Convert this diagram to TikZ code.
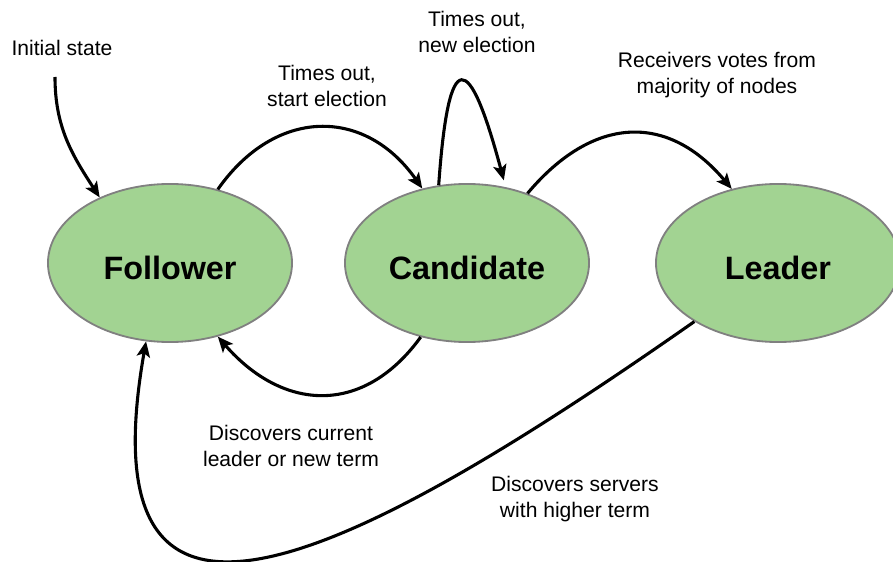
\documentclass[tikz,border=0pt]{standalone}
\usepackage{fontspec}
\setmainfont{Liberation Sans}
\usepackage{tikz}
\usetikzlibrary{shapes.geometric,arrows.meta}
\definecolor{etat}{RGB}{162,211,146}
\definecolor{bord}{RGB}{128,128,128}

\begin{document}
\begin{tikzpicture}[x=0.025cm,y=0.025cm,
  state/.style={ellipse,draw=bord,line width=1.3pt,fill=etat,minimum width=6.1cm,minimum height=3.95cm,inner sep=0pt,text height=24pt,text depth=0pt,font=\fontsize{23}{28}\selectfont\bfseries},
  trans/.style={line width=2.2pt,-{Stealth[length=11pt,width=9.5pt,inset=2.5pt]}},
  lbl/.style={align=center,font=\fontsize{15}{18.5}\selectfont}]
\useasboundingbox(0,0)rectangle(893,561);
\node[state](follower)at(170,298){Follower};
\node[state](candidate)at(467,298){Candidate};
\node[state](leader)at(778,298){Leader};
\coordinate(init)at(55,484);
\node[lbl](linit)at(62,513){Initial state};
\node[lbl](ltimeout)at(327,475){Times out,\\start election};
\node[lbl](lnewelec)at(477,529){Times out,\\new election};
\node[lbl](lvotes)at(717,486){Receivers votes from\\majority of nodes};
\node[lbl](lcurrent)at(291,115){Discovers current\\leader or new term};
\node[lbl](lhigher)at(575,62){Discovers servers\\with higher term};
\draw[trans](init)to[out=-90,in=123](follower.137);
\draw[trans](follower.57)to[out=55,in=125,looseness=1.25](candidate.121);
\draw[trans,shorten >=5pt](candidate.110)to[out=86,in=105,looseness=5.4](candidate.63);
\draw[trans](candidate.49)to[out=50,in=130,looseness=1.26](leader.122);
\draw[trans](candidate.238)to[out=234,in=311,looseness=1.24](follower.303);
\draw[trans](leader.215)to[out=215,in=260,out looseness=2.12,in looseness=1.62](follower.253);
\end{tikzpicture}
\end{document}
